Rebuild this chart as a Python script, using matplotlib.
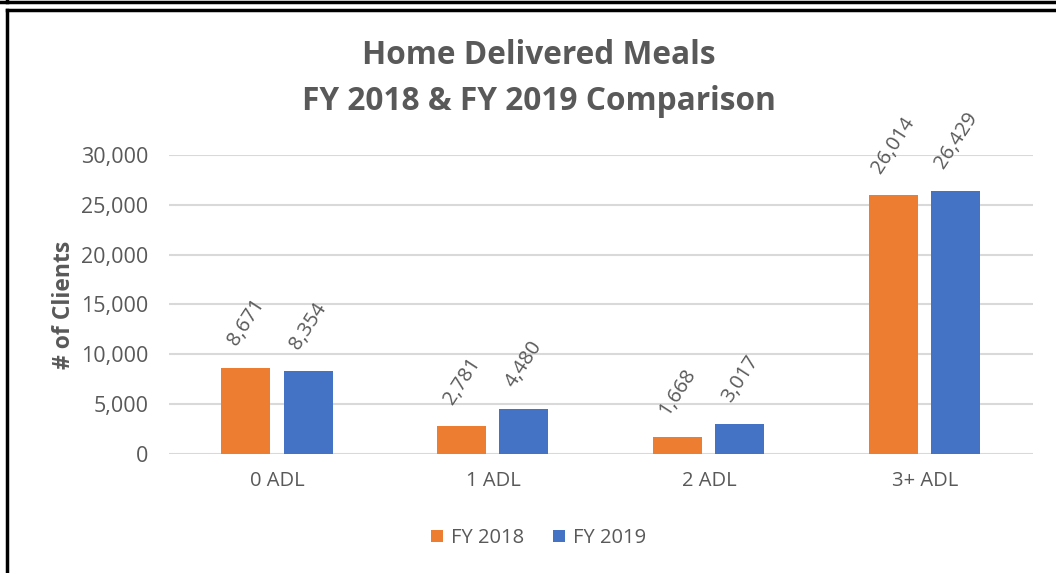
import matplotlib.pyplot as plt
from matplotlib.lines import Line2D
import numpy as np

plt.rcParams['font.family'] = ['Open Sans', 'DejaVu Sans']

# 数据
categories = ['0 ADL', '1 ADL', '2 ADL', '3+ ADL']
fy2018 = [8671, 2781, 1668, 26014]
fy2019 = [8354, 4480, 3017, 26429]
series_names = ['FY 2018', 'FY 2019']

grey = '#595959'
orange = '#ED7D31'
blue = '#4472C4'

fig = plt.figure(figsize=(10.56, 5.73), dpi=100)
ax = fig.add_axes([0.160, 0.2077, 0.818, 0.5218])

x = np.arange(len(categories))
w = 0.227
off = 0.144
b1 = ax.bar(x - off, fy2018, w, color=orange, label=series_names[0], zorder=3)
b2 = ax.bar(x + off, fy2019, w, color=blue, label=series_names[1], zorder=3)

# 数据标签
for bars in (b1, b2):
    for rect in bars:
        h = rect.get_height()
        ax.annotate(f'{h:,.0f}', (rect.get_x() + rect.get_width() / 2, h),
                    xytext=(0, 13), textcoords='offset points',
                    ha='center', va='bottom', rotation=57,
                    fontsize=14.5, color=grey)

ax.set_xlim(-0.5, 3.5)
ax.set_ylim(0, 30000)
ax.set_yticks(range(0, 30001, 5000))
ax.set_yticklabels([f'{v:,}' for v in range(0, 30001, 5000)])
ax.set_xticks(x)
ax.set_xticklabels(categories)
ax.tick_params(axis='both', length=0, labelcolor=grey)
ax.tick_params(axis='y', pad=15, labelsize=15.5)
ax.tick_params(axis='x', pad=12, labelsize=14.5)
ax.grid(axis='y', color='#d9d9d9', linewidth=1.5, zorder=0)
for s in ax.spines.values():
    s.set_visible(False)

ax.set_ylabel('# of Clients', fontsize=16.5, fontweight='bold', color=grey)
ax.yaxis.set_label_coords(-0.108, 0.5)

fig.text(0.51, 1 - 55 / 573, 'Home Delivered Meals', ha='center', va='center',
         fontsize=22.8, fontweight='bold', color=grey)
fig.text(0.51, 1 - 102 / 573, 'FY 2018 & FY 2019 Comparison', ha='center', va='center',
         fontsize=22.8, fontweight='bold', color=grey)

fig.legend(handles=[b1, b2], labels=series_names, loc='center',
           bbox_to_anchor=(0.51, 1 - 538 / 573), ncol=2, frameon=False,
           fontsize=14.5, labelcolor=grey, handlelength=0.6, handleheight=0.6,
           handletextpad=0.4, columnspacing=1.4)

# 外框
W, H = 1056, 573
fig.add_artist(Line2D([0, 1], [1 - 2 / H, 1 - 2 / H], transform=fig.transFigure,
                      color='black', linewidth=2.5))
fig.add_artist(Line2D([7 / W, 7 / W], [1, 1 - 2 / H], transform=fig.transFigure,
                      color='black', linewidth=2.5))
fig.add_artist(Line2D([7 / W, 1], [1 - 10 / H, 1 - 10 / H], transform=fig.transFigure,
                      color='black', linewidth=2.5))
fig.add_artist(Line2D([7 / W, 7 / W], [1 - 10 / H, 0], transform=fig.transFigure,
                      color='black', linewidth=2.5))

fig.savefig('out.png', dpi=100)
